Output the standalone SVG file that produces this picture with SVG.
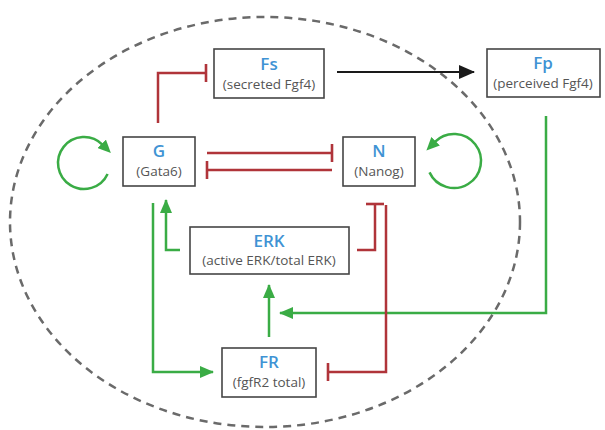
<svg xmlns="http://www.w3.org/2000/svg" width="605" height="430" viewBox="0 0 605 430">
  <style>
    .box { fill: #ffffff; stroke: #454545; stroke-width: 1.6; }
    .name { font-family: "Open Sans", "Liberation Sans", sans-serif; font-size: 17px; font-weight: 600; fill: #3f93d4; text-anchor: middle; }
    .desc { font-family: "Open Sans", "Liberation Sans", sans-serif; font-size: 13.5px; fill: #555555; text-anchor: middle; }
    .act { fill: none; stroke: #3aac45; stroke-width: 2.5; }
    .inh { fill: none; stroke: #b0343a; stroke-width: 2.5; }
    .flow { fill: none; stroke: #1a1a1a; stroke-width: 2.2; }
    .cell { fill: none; stroke: #6a6a6a; stroke-width: 2.5; stroke-dasharray: 8 6; }
  </style>
  <defs>
    <marker id="arrowGreen" markerUnits="userSpaceOnUse" markerWidth="14" markerHeight="12" refX="13" refY="6" orient="auto">
      <path d="M0,0 L14,6 L0,12 z" fill="#3aac45"/>
    </marker>
    <!-- loop heads sit beyond the arc end, following its tangent -->
    <marker id="loopGreen" markerUnits="userSpaceOnUse" markerWidth="14" markerHeight="12" refX="1" refY="6" orient="auto">
      <path d="M0,0 L13,6 L0,12 z" fill="#3aac45"/>
    </marker>
    <marker id="arrowBlack" markerUnits="userSpaceOnUse" markerWidth="16" markerHeight="14" refX="15" refY="7" orient="auto">
      <path d="M0,0 L16,7 L0,14 z" fill="#1a1a1a"/>
    </marker>
    <marker id="tee" markerUnits="userSpaceOnUse" markerWidth="4" markerHeight="20" refX="2" refY="10" orient="auto">
      <line x1="2" y1="1" x2="2" y2="19" stroke="#b0343a" stroke-width="2.6"/>
    </marker>
  </defs>

  <!-- cell boundary -->
  <ellipse class="cell" cx="265" cy="222" rx="255" ry="205"/>

  <g id="connectors">
    <!-- G inhibits Fs -->
    <path class="inh" d="M158,123 V73 H206" marker-end="url(#tee)"/>
    <!-- Fs becomes Fp -->
    <path class="flow" d="M337,72 H474" marker-end="url(#arrowBlack)"/>
    <!-- mutual inhibition G / N -->
    <path class="inh" d="M207,153 H332" marker-end="url(#tee)"/>
    <path class="inh" d="M332,170 H207" marker-end="url(#tee)"/>
    <!-- self activation loops -->
    <path class="act" d="M107.6,174 A26,26 0 1 1 102.4,144.6" marker-end="url(#loopGreen)"/>
    <path class="act" d="M429.5,172.4 A27,27 0 1 0 434.9,141.9" marker-end="url(#loopGreen)"/>
    <!-- ERK activates G -->
    <path class="act" d="M180,250 H166 V200" marker-end="url(#arrowGreen)"/>
    <!-- G activates FR -->
    <path class="act" d="M153,203 V372 H213" marker-end="url(#arrowGreen)"/>
    <!-- FR activates ERK -->
    <path class="act" d="M269,337 V285" marker-end="url(#arrowGreen)"/>
    <!-- Fp activates ERK -->
    <path class="act" d="M546,116 V313 H280" marker-end="url(#arrowGreen)"/>
    <!-- ERK inhibits N -->
    <path class="inh" d="M357,250 H375 V204" marker-end="url(#tee)"/>
    <!-- N inhibits FR -->
    <path class="inh" d="M386,205 V372 H328" marker-end="url(#tee)"/>
  </g>

  <g id="Fs">
    <rect class="box" x="214" y="49" width="110" height="49"/>
    <text class="name" x="269" y="70">Fs</text>
    <text class="desc" x="269" y="89">(secreted Fgf4)</text>
  </g>
  <g id="Fp">
    <rect class="box" x="487" y="49" width="113" height="48"/>
    <text class="name" x="543" y="69">Fp</text>
    <text class="desc" x="543" y="88">(perceived Fgf4)</text>
  </g>
  <g id="G">
    <rect class="box" x="123" y="137" width="72" height="49"/>
    <text class="name" x="159" y="157">G</text>
    <text class="desc" x="159" y="176">(Gata6)</text>
  </g>
  <g id="N">
    <rect class="box" x="343" y="137" width="72" height="49"/>
    <text class="name" x="379" y="157">N</text>
    <text class="desc" x="379" y="176">(Nanog)</text>
  </g>
  <g id="ERK">
    <rect class="box" x="190" y="227" width="159" height="47"/>
    <text class="name" x="269" y="247">ERK</text>
    <text class="desc" x="269" y="265">(active ERK/total ERK)</text>
  </g>
  <g id="FR">
    <rect class="box" x="222" y="348" width="94" height="49"/>
    <text class="name" x="269" y="368">FR</text>
    <text class="desc" x="269" y="387">(fgfR2 total)</text>
  </g>
</svg>
